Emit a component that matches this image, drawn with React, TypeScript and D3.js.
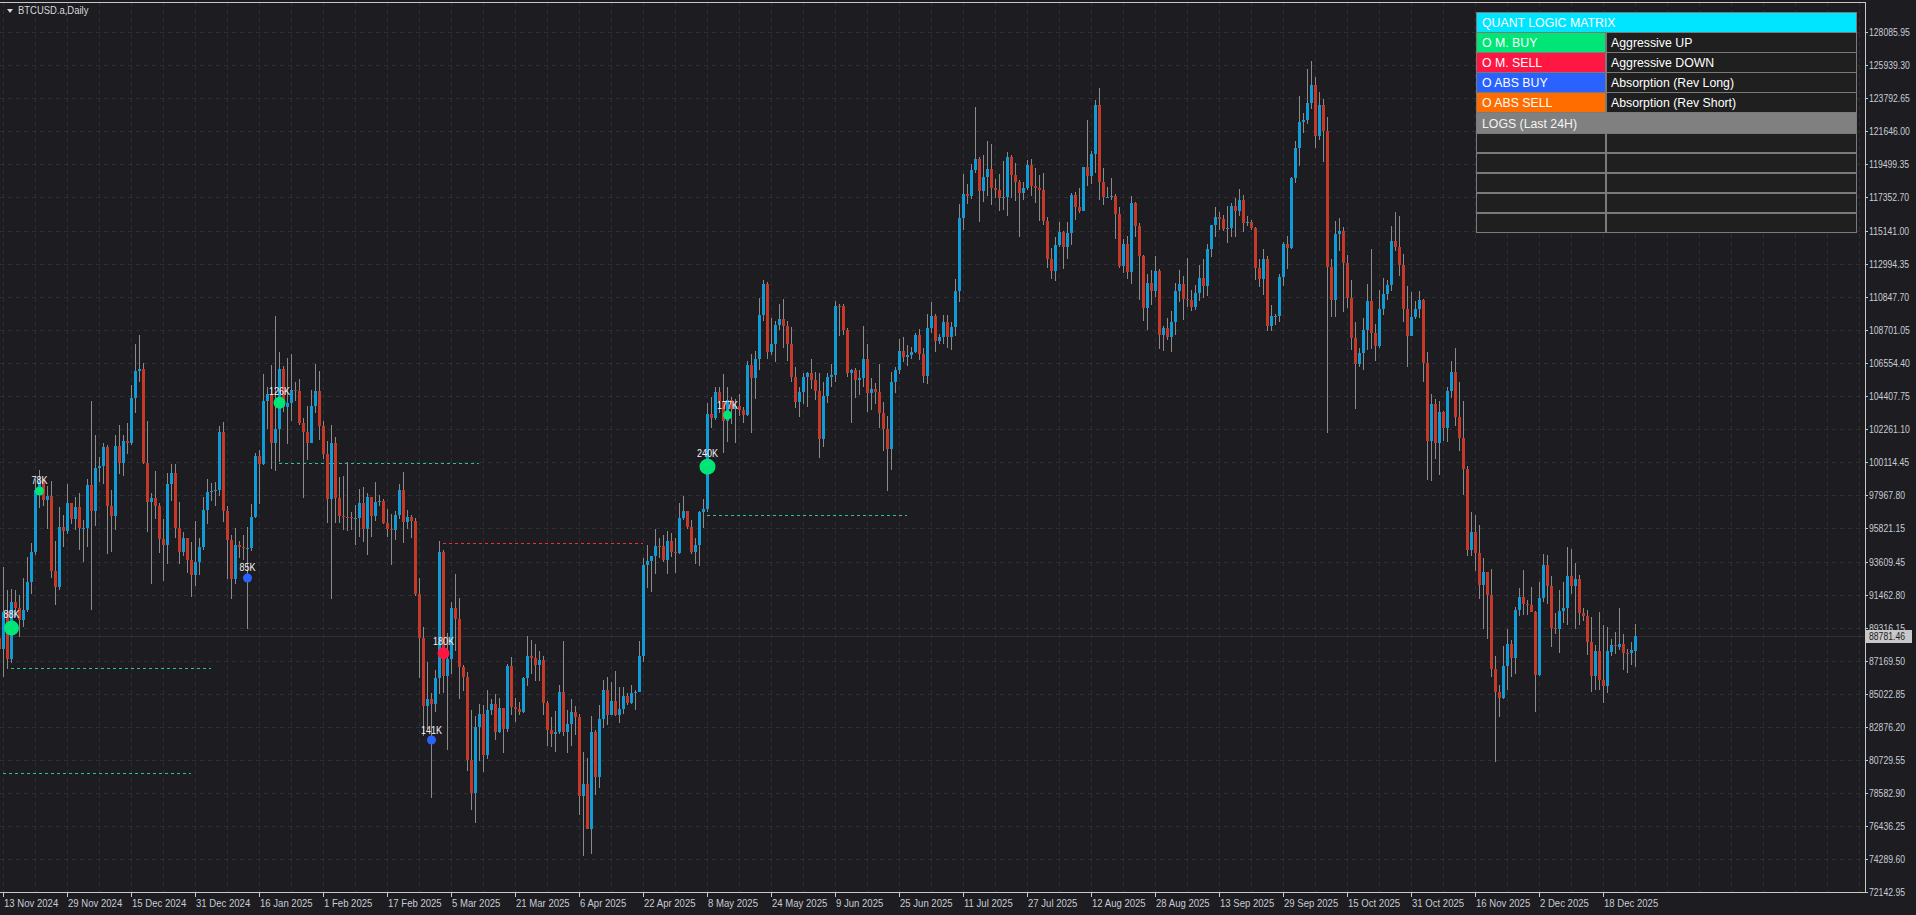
import React from 'react';
import * as d3 from 'd3';

const W = 1916;
const H = 915;

// ---- OHLC data (thousand USD), one row per daily bar: [open, high, low, close]
const FIRST_BAR = '2024-11-12';
const nov2024 = [
  [88.65, 89.94, 85.07, 87.95], [87.95, 93.27, 86.13, 90.38], [90.38, 91.79, 86.67, 87.33], [87.33, 91.85, 87.07, 91.03],
  [91.03, 91.78, 90.06, 90.59], [90.59, 91.45, 88.72, 89.86], [89.86, 92.59, 89.38, 90.47], [90.47, 93.91, 90.36, 92.31],
  [92.31, 94.83, 91.5, 94.29], [94.29, 98.99, 94.04, 98.32], [98.32, 99.59, 97.12, 98.89], [98.89, 99.0, 97.23, 97.67],
  [97.67, 98.56, 95.73, 97.9], [97.9, 98.87, 92.6, 93.01], [93.01, 94.97, 90.79, 91.97], [91.97, 97.21, 91.79, 95.86],
  [95.86, 96.65, 94.61, 95.64], [95.64, 98.69, 95.41, 97.46], [97.46, 97.46, 96.09, 96.41],
];
const dec2024 = [
  [96.41, 97.84, 95.69, 97.19], [97.19, 98.13, 94.4, 95.84], [95.84, 96.31, 93.58, 95.85], [95.85, 99.0, 94.59, 98.59],
  [98.59, 104.09, 90.5, 96.95], [96.95, 101.9, 95.98, 99.74], [99.74, 100.44, 98.84, 99.83], [99.83, 101.35, 98.66, 101.11],
  [101.11, 101.22, 94.15, 97.28], [97.28, 98.27, 94.26, 96.59], [96.59, 101.9, 95.7, 101.13], [101.13, 102.54, 99.31, 100.04],
  [100.04, 101.9, 99.21, 101.46], [101.46, 102.65, 100.63, 101.37], [101.37, 105.12, 101.23, 104.3], [104.3, 107.78, 103.32, 106.03],
  [106.03, 108.35, 105.32, 106.14], [106.14, 106.53, 100.0, 100.04], [100.04, 102.8, 95.59, 97.49], [97.49, 98.1, 92.18, 97.76],
  [97.76, 99.54, 96.4, 97.23], [97.23, 97.43, 94.2, 95.1], [95.1, 96.42, 92.4, 94.69], [94.69, 99.4, 93.45, 98.68],
  [98.68, 99.96, 97.6, 99.43], [99.43, 99.96, 95.2, 95.79], [95.79, 97.54, 93.5, 94.28], [94.28, 95.53, 94.02, 95.16],
  [95.16, 95.17, 92.88, 93.74], [93.74, 94.9, 91.32, 92.79], [92.79, 96.25, 92.03, 93.58],
];
const jan2025 = [
  [93.58, 95.15, 92.75, 94.59], [94.59, 97.84, 94.39, 96.99], [96.99, 98.98, 96.1, 98.17], [98.17, 98.73, 97.56, 98.24],
  [98.24, 98.81, 97.25, 98.32], [98.32, 102.48, 97.93, 102.08], [102.08, 102.72, 96.18, 96.92], [96.92, 97.26, 92.5, 95.04],
  [95.04, 95.35, 91.22, 92.48], [92.48, 95.84, 92.21, 94.7], [94.7, 94.98, 93.84, 94.57], [94.57, 95.38, 93.71, 94.49],
  [94.49, 95.9, 89.26, 94.52], [94.52, 97.37, 94.31, 96.53], [96.53, 100.68, 96.5, 100.51], [100.51, 100.87, 97.35, 99.99],
  [99.99, 105.87, 99.95, 104.08], [104.08, 104.99, 102.28, 104.56], [104.56, 106.42, 99.65, 101.33], [101.33, 109.59, 99.55, 102.26],
  [102.26, 107.24, 100.12, 106.14], [106.14, 106.39, 103.34, 103.71], [103.71, 106.85, 101.26, 103.96], [103.96, 107.12, 102.75, 104.82],
  [104.82, 105.29, 104.11, 104.71], [104.71, 105.5, 102.52, 102.68], [102.68, 103.0, 97.78, 102.09], [102.09, 103.78, 100.23, 101.33],
  [101.33, 104.8, 101.33, 103.73], [103.73, 106.46, 103.32, 104.72], [104.72, 106.01, 101.56, 102.43],
];
const feb2025 = [
  [102.43, 102.78, 100.28, 100.64], [100.64, 101.46, 96.15, 97.7], [97.7, 102.5, 91.23, 101.33], [101.33, 101.75, 96.15, 97.76],
  [97.76, 99.15, 96.16, 96.61], [96.61, 99.18, 95.68, 96.55], [96.55, 100.14, 95.62, 96.51], [96.51, 96.88, 95.69, 96.44],
  [96.44, 97.32, 94.71, 96.46], [96.46, 98.35, 95.26, 97.43], [97.43, 98.48, 94.88, 95.78], [95.78, 98.12, 94.09, 97.87],
  [97.87, 97.87, 95.22, 96.61], [96.61, 98.83, 96.25, 97.5], [97.5, 97.97, 97.22, 97.57], [97.57, 97.73, 96.06, 96.12],
  [96.12, 97.05, 95.21, 95.78], [95.78, 96.75, 93.39, 95.67], [95.67, 96.9, 95.03, 96.64], [96.64, 98.71, 96.42, 98.31],
  [98.31, 99.48, 94.87, 96.18], [96.18, 96.98, 95.77, 96.55], [96.55, 96.67, 95.2, 96.26], [96.26, 96.5, 91.37, 91.55],
  [91.55, 92.54, 86.05, 88.68], [88.68, 89.41, 82.26, 84.25], [84.25, 87.08, 82.72, 84.71], [84.71, 85.12, 78.26, 84.35],
];
const mar2025 = [
  [84.35, 86.56, 83.82, 86.06], [86.06, 95.0, 85.05, 94.27], [94.27, 94.42, 85.12, 86.22], [86.22, 88.97, 81.39, 87.28],
  [87.28, 91.0, 86.33, 90.61], [90.61, 92.81, 87.84, 89.93], [89.93, 91.28, 84.67, 86.8], [86.8, 86.88, 85.25, 86.15],
  [86.15, 86.47, 80.0, 80.74], [80.74, 83.96, 77.46, 78.6], [78.6, 83.62, 76.61, 82.86], [82.86, 84.36, 80.67, 83.72],
  [83.72, 84.3, 79.94, 81.07], [81.07, 85.31, 80.8, 83.97], [83.97, 84.67, 83.64, 84.34], [84.34, 85.05, 82.02, 82.58],
  [82.58, 84.76, 82.46, 84.08], [84.08, 84.08, 81.18, 82.72], [82.72, 87.0, 82.55, 86.85], [86.85, 87.45, 83.66, 84.17],
  [84.17, 84.78, 83.18, 84.04], [84.04, 84.51, 83.68, 83.83], [83.83, 86.13, 83.8, 86.05], [86.05, 88.77, 85.54, 87.5],
  [87.5, 88.54, 86.3, 87.39], [87.39, 88.29, 85.86, 86.91], [86.91, 87.79, 85.84, 87.23], [87.23, 87.52, 83.65, 84.42],
  [84.42, 84.57, 81.64, 82.65], [82.65, 83.53, 81.57, 82.39], [82.39, 83.94, 81.28, 82.55],
];
const apr2025 = [
  [82.55, 85.58, 82.43, 85.16], [85.16, 88.5, 82.32, 82.52], [82.52, 84.0, 81.21, 83.1], [83.1, 84.72, 81.66, 83.84],
  [83.84, 84.27, 82.38, 83.5], [83.5, 83.71, 77.15, 78.37], [78.37, 81.24, 74.51, 79.14], [79.14, 80.87, 76.24, 76.27],
  [76.27, 83.59, 74.62, 82.57], [82.57, 82.7, 78.46, 79.63], [79.63, 84.3, 78.94, 83.4], [83.4, 85.91, 82.79, 85.29],
  [85.29, 86.1, 83.03, 83.68], [83.68, 85.8, 83.68, 84.54], [84.54, 86.5, 83.6, 83.67], [83.67, 85.5, 83.11, 84.03],
  [84.03, 85.47, 83.74, 84.9], [84.9, 85.09, 84.3, 84.45], [84.45, 85.6, 84.35, 85.06], [85.06, 85.31, 83.95, 85.17],
  [85.17, 88.46, 85.14, 87.52], [87.52, 93.89, 87.08, 93.44], [93.44, 94.7, 91.94, 93.69], [93.69, 94.0, 91.66, 93.98],
  [93.98, 95.76, 92.86, 94.64], [94.64, 95.2, 93.87, 94.63], [94.63, 95.37, 93.6, 93.75], [93.75, 95.63, 92.8, 94.98],
  [94.98, 95.47, 93.92, 94.28], [94.28, 95.2, 92.91, 94.17],
];
const may2025 = [
  [94.17, 97.44, 94.11, 96.49], [96.49, 97.9, 96.33, 96.91], [96.91, 96.94, 95.75, 95.86], [95.86, 96.32, 94.14, 94.28],
  [94.28, 95.2, 93.51, 94.73], [94.73, 96.92, 93.38, 96.83], [96.83, 97.73, 95.8, 97.03], [97.03, 103.97, 96.89, 103.24],
  [103.24, 104.36, 102.32, 102.97], [102.97, 104.98, 102.82, 104.7], [104.7, 105.0, 103.32, 104.11], [104.11, 105.82, 100.72, 102.81],
  [102.81, 104.98, 101.43, 104.17], [104.17, 104.34, 102.6, 103.54], [103.54, 104.19, 101.38, 103.74], [103.74, 104.55, 103.1, 103.49],
  [103.49, 103.72, 102.63, 103.19], [103.19, 106.66, 103.11, 106.43], [106.43, 107.11, 102.0, 105.61], [105.61, 107.32, 104.19, 106.79],
  [106.79, 110.8, 106.1, 109.68], [109.68, 111.98, 109.29, 111.67], [111.67, 111.8, 106.8, 107.29], [107.29, 109.5, 107.1, 107.79],
  [107.79, 109.31, 106.6, 109.04], [109.04, 110.42, 108.67, 109.44], [109.44, 110.72, 107.52, 108.99], [108.99, 109.31, 106.68, 107.8],
  [107.8, 108.91, 105.32, 105.64], [105.64, 106.31, 103.62, 104.0], [104.0, 105.0, 103.07, 104.64],
];
const jun2025 = [
  [104.64, 105.92, 103.86, 105.65], [105.65, 105.94, 103.7, 105.88], [105.88, 106.79, 104.88, 105.43], [105.43, 106.0, 104.17, 104.73],
  [104.73, 105.91, 100.37, 101.58], [101.58, 105.33, 101.1, 104.39], [104.39, 105.9, 103.98, 105.62], [105.62, 106.49, 105.0, 105.79],
  [105.79, 110.6, 105.32, 110.29], [110.29, 110.4, 108.33, 110.26], [110.26, 110.39, 108.37, 108.69], [108.69, 108.81, 105.67, 105.93],
  [105.93, 106.18, 102.66, 106.09], [106.09, 106.21, 104.3, 105.47], [105.47, 106.13, 104.49, 105.55], [105.55, 108.95, 104.98, 106.8],
  [106.8, 107.77, 103.37, 104.6], [104.6, 105.56, 103.5, 104.88], [104.88, 105.25, 103.9, 104.64], [104.64, 106.52, 102.35, 103.31],
  [103.31, 104.0, 100.84, 102.26], [102.26, 103.13, 98.2, 100.96], [100.96, 106.0, 99.61, 105.33], [105.33, 106.29, 104.62, 106.08],
  [106.08, 108.14, 105.81, 107.34], [107.34, 108.27, 106.6, 106.95], [106.95, 107.74, 106.36, 107.05], [107.05, 107.59, 106.81, 107.3],
  [107.3, 108.53, 107.2, 108.36], [108.36, 108.79, 106.73, 107.14],
];
const jul2025 = [
  [107.14, 107.54, 105.25, 105.7], [105.7, 109.76, 105.16, 108.85], [108.85, 110.53, 108.53, 109.58], [109.58, 109.77, 107.25, 107.99],
  [107.99, 108.42, 107.8, 108.22], [108.22, 109.7, 107.8, 109.2], [109.2, 109.7, 107.51, 108.26], [108.26, 109.22, 107.43, 108.92],
  [108.92, 112.0, 108.32, 111.23], [111.23, 116.87, 110.5, 115.99], [115.99, 118.87, 115.22, 117.52], [117.52, 118.2, 116.9, 117.44],
  [117.44, 119.49, 117.23, 119.09], [119.09, 123.22, 118.91, 119.84], [119.84, 119.94, 115.74, 117.76], [117.76, 120.06, 117.02, 118.63],
  [118.63, 121.0, 117.45, 119.18], [119.18, 120.82, 116.81, 117.92], [117.92, 118.5, 117.28, 117.84], [117.84, 118.86, 116.47, 117.27],
  [117.27, 119.68, 116.52, 117.38], [117.38, 120.25, 116.13, 119.95], [119.95, 120.09, 117.3, 118.76], [118.76, 119.54, 117.1, 118.34],
  [118.34, 118.45, 114.72, 117.61], [117.61, 118.3, 117.17, 117.92], [117.92, 119.77, 117.84, 119.42], [119.42, 119.8, 117.43, 118.06],
  [118.06, 119.27, 116.95, 117.94], [117.94, 118.79, 115.8, 117.8], [117.8, 118.92, 115.5, 115.76],
];
const aug2025 = [
  [115.76, 116.05, 112.72, 113.3], [113.3, 114.04, 112.0, 112.55], [112.55, 114.77, 111.92, 114.21], [114.21, 115.72, 114.11, 115.06],
  [115.06, 115.13, 112.65, 114.13], [114.13, 115.72, 113.35, 114.99], [114.99, 117.63, 114.26, 117.47], [117.47, 117.7, 115.88, 116.67],
  [116.67, 117.94, 116.3, 116.46], [116.46, 119.31, 116.46, 119.29], [119.29, 122.34, 118.05, 118.69], [118.69, 120.32, 118.21, 120.13],
  [120.13, 123.67, 118.92, 123.31], [123.31, 124.47, 117.18, 118.3], [118.3, 119.22, 116.8, 117.34], [117.34, 118.0, 117.26, 117.38],
  [117.38, 118.58, 117.17, 117.41], [117.41, 117.54, 114.64, 116.23], [116.23, 116.73, 112.73, 112.87], [112.87, 114.62, 112.38, 114.27],
  [114.27, 114.82, 112.02, 112.5], [112.5, 117.43, 111.68, 116.94], [116.94, 117.0, 114.72, 115.44], [115.44, 115.67, 110.68, 113.49],
  [113.49, 113.6, 109.27, 110.11], [110.11, 112.37, 108.67, 111.76], [111.76, 112.63, 110.35, 111.26], [111.26, 113.49, 110.86, 112.57],
  [112.57, 112.64, 107.46, 108.38], [108.38, 108.95, 107.35, 108.82], [108.82, 109.48, 108.08, 108.25],
];
const sep2025 = [
  [108.25, 109.91, 107.26, 109.24], [109.24, 111.77, 108.39, 111.24], [111.24, 112.6, 110.53, 111.71], [111.71, 112.21, 109.33, 110.73],
  [110.73, 113.38, 110.21, 110.66], [110.66, 111.3, 109.93, 110.19], [110.19, 111.6, 110.0, 111.14], [111.14, 112.93, 110.62, 112.07],
  [112.07, 113.29, 110.77, 111.55], [111.55, 114.31, 110.92, 113.96], [113.96, 115.49, 113.43, 115.5], [115.5, 116.67, 114.74, 116.03],
  [116.03, 116.4, 115.22, 115.92], [115.92, 116.15, 115.14, 115.27], [115.27, 116.78, 114.38, 115.35], [115.35, 116.96, 114.74, 116.79],
  [116.79, 117.29, 114.72, 116.47], [116.47, 117.9, 116.09, 117.14], [117.14, 117.46, 115.1, 115.63], [115.63, 116.1, 115.45, 115.72],
  [115.72, 115.86, 115.2, 115.31], [115.31, 115.38, 111.94, 112.75], [112.75, 113.29, 111.5, 112.01], [112.01, 114.0, 111.0, 113.33],
  [113.33, 113.51, 108.63, 108.99], [108.99, 110.3, 108.62, 109.64], [109.64, 109.77, 109.04, 109.64], [109.64, 112.35, 109.2, 112.16],
  [112.16, 114.4, 111.56, 114.31], [114.31, 114.79, 112.66, 114.05],
];
const oct2025 = [
  [114.05, 118.65, 113.98, 118.59], [118.59, 121.02, 118.28, 120.53], [120.53, 123.94, 119.34, 122.23], [122.23, 122.8, 121.5, 122.39],
  [122.39, 125.71, 122.1, 123.48], [123.48, 126.2, 123.08, 124.66], [124.66, 125.13, 120.57, 121.33], [121.33, 124.2, 121.07, 123.31],
  [123.31, 123.76, 119.65, 121.66], [121.66, 122.55, 102.0, 112.77], [112.77, 113.32, 109.56, 110.64], [110.64, 115.77, 109.57, 114.96],
  [114.96, 116.0, 113.82, 115.17], [115.17, 115.4, 109.87, 113.03], [113.03, 113.61, 110.16, 110.76], [110.76, 111.98, 107.43, 108.19],
  [108.19, 109.24, 103.53, 106.47], [106.47, 107.5, 106.32, 107.2], [107.2, 109.45, 106.1, 108.67], [108.67, 111.71, 107.4, 110.59],
  [110.59, 114.0, 107.47, 108.48], [108.48, 109.07, 106.67, 107.69], [107.69, 111.29, 107.5, 110.07], [110.07, 112.1, 109.7, 111.03],
  [111.03, 111.94, 110.67, 111.64], [111.64, 115.47, 111.26, 114.47], [114.47, 116.4, 113.83, 114.12], [114.12, 116.09, 112.21, 112.96],
  [112.96, 113.64, 109.2, 110.06], [110.06, 111.59, 106.3, 108.31], [108.31, 111.19, 108.28, 109.56],
];
const nov2025 = [
  [109.56, 110.56, 109.39, 110.06], [110.06, 111.25, 109.47, 110.64], [110.64, 110.75, 105.31, 106.55], [106.55, 107.3, 98.94, 101.5],
  [101.5, 104.53, 98.89, 103.89], [103.89, 104.2, 100.3, 101.35], [101.35, 104.1, 99.26, 103.34], [103.34, 103.41, 101.45, 102.31],
  [102.31, 105.0, 101.4, 104.72], [104.72, 106.67, 104.27, 106.0], [106.0, 107.5, 102.48, 103.02], [103.02, 105.33, 100.81, 101.65],
  [101.65, 104.09, 98.0, 99.69], [99.69, 99.87, 94.01, 94.4], [94.4, 96.85, 94.0, 95.55], [95.55, 96.64, 93.0, 94.18],
  [94.18, 96.04, 91.22, 92.09], [92.09, 93.84, 89.25, 92.95], [92.95, 92.98, 88.61, 91.47], [91.47, 93.16, 86.1, 86.63],
  [86.63, 87.5, 80.6, 85.13], [85.13, 85.62, 83.5, 84.74], [84.74, 88.13, 84.67, 86.83], [86.83, 89.23, 85.27, 88.3],
  [88.3, 88.52, 86.12, 87.37], [87.37, 90.66, 86.31, 90.48], [90.48, 91.95, 90.09, 91.33], [91.33, 93.09, 90.18, 90.89],
  [90.89, 91.17, 90.16, 90.8], [90.8, 92.0, 90.34, 90.36],
];
const dec2025 = [
  [90.36, 90.42, 83.82, 86.29], [86.29, 92.31, 86.19, 91.28], [91.28, 94.15, 90.99, 93.43], [93.43, 94.08, 90.89, 92.08],
  [92.08, 92.69, 88.06, 89.33], [89.33, 90.29, 88.91, 89.24], [89.24, 91.76, 87.72, 90.4], [90.4, 92.29, 89.61, 90.63],
  [90.63, 94.59, 89.5, 92.68], [92.68, 94.48, 91.56, 92.02], [92.02, 93.56, 89.26, 92.51], [92.51, 92.75, 89.48, 90.27],
  [90.27, 90.63, 89.77, 90.1], [90.1, 90.47, 87.58, 88.4], [88.4, 90.05, 85.15, 86.19], [86.19, 88.18, 85.27, 87.82],
  [87.82, 90.37, 85.31, 85.93], [85.93, 89.48, 84.45, 85.54], [85.54, 89.4, 85.11, 87.82], [87.76, 88.57, 87.5, 88.21],
  [88.21, 89.08, 87.6, 88.2], [88.08, 90.59, 87.9, 88.28], [88.28, 88.94, 86.6, 87.69], [87.72, 87.96, 86.4, 87.69],
  [87.69, 88.4, 86.9, 87.89], [87.8, 89.6, 86.8, 88.78146],
];
const MONTHS = [nov2024, dec2024, jan2025, feb2025, mar2025, apr2025, may2025, jun2025, jul2025, aug2025, sep2025, oct2025, nov2025, dec2025];

const LAST_PRICE = 88781.46;

// Axis labels
const PRICE_TICKS = [
  '128085.95', '125939.30', '123792.65', '121646.00', '119499.35', '117352.70', '115141.00', '112994.35', '110847.70',
  '108701.05', '106554.40', '104407.75', '102261.10', '100114.45', '97967.80', '95821.15', '93609.45', '91462.80',
  '89316.15', '87169.50', '85022.85', '82876.20', '80729.55', '78582.90', '76436.25', '74289.60', '72142.95',
];
const DATE_TICKS = [
  '13 Nov 2024', '29 Nov 2024', '15 Dec 2024', '31 Dec 2024', '16 Jan 2025', '1 Feb 2025', '17 Feb 2025', '5 Mar 2025',
  '21 Mar 2025', '6 Apr 2025', '22 Apr 2025', '8 May 2025', '24 May 2025', '9 Jun 2025', '25 Jun 2025', '11 Jul 2025',
  '27 Jul 2025', '12 Aug 2025', '28 Aug 2025', '13 Sep 2025', '29 Sep 2025', '15 Oct 2025', '31 Oct 2025', '16 Nov 2025',
  '2 Dec 2025', '18 Dec 2025',
];

// Signals: date, price (thousand USD), kind, label, size
const SIGNAL_DATES = ['2024-11-15', '2024-11-22', '2025-01-13', '2025-01-21', '2025-03-03', '2025-02-28', '2025-05-08', '2025-05-13'];
const SIGNAL_PRICES = [89.32, 98.23, 92.57, 103.97, 87.67, 82.03, 99.81, 103.17];
const SIGNAL_KINDS = ['buy', 'buy', 'absBuy', 'buy', 'sell', 'absBuy', 'buy', 'buy'];
const SIGNAL_LABELS = ['88K', '78K', '85K', '126K', '180K', '141K', '240K', '177K'];
const SIGNAL_SIZES = [7.5, 4.5, 4.5, 6, 6, 4.5, 8, 4.5];

// Dashed levels: start date, end date, price, kind
const LEVEL_STARTS = ['2024-11-15', '2024-11-10', '2025-01-21', '2025-03-03', '2025-05-08'];
const LEVEL_ENDS = ['2025-01-04', '2024-12-30', '2025-03-12', '2025-04-22', '2025-06-27'];
const LEVEL_PRICES = [86.72, 79.88, 100.05, 94.84, 96.65];
const LEVEL_KINDS = ['buy', 'buy', 'buy', 'sell', 'buy'];

// Legend table
const LEGEND_LEFT = ['O M. BUY', 'O M. SELL', 'O ABS BUY', 'O ABS SELL'];
const LEGEND_RIGHT = ['Aggressive UP', 'Aggressive DOWN', 'Absorption (Rev Long)', 'Absorption (Rev Short)'];
const LEGEND_KINDS = ['buy', 'sell', 'absBuy', 'absSell'];

const KIND_COLOR: Record<string, string> = {
  buy: '#00e676',
  sell: '#ff1744',
  absBuy: '#2962ff',
  absSell: '#ff6d00',
};
const LEVEL_COLOR: Record<string, string> = { buy: '#2bc684', sell: '#e8323f' };

const BG = '#1c1c21';
const GRID = '#2e2e35';
const UP = '#119ad6';
const DOWN = '#c4392a';
const WICK = '#8a8a8a';
const AXIS_TXT = '#c9ccd4';
const FONT = "'Liberation Sans', Arial, sans-serif";

const PLOT_RIGHT = 1865;
const PLOT_BOTTOM = 892;
const PLOT_TOP = 2;

const parseIso = d3.utcParse('%Y-%m-%d');
const parseTick = d3.utcParse('%d %b %Y');

// Narrow terminal-style text: Liberation Sans squeezed horizontally
function NarrowText(props: {
  x: number;
  y: number;
  sx: number;
  size: number;
  fill: string;
  anchor?: 'start' | 'middle' | 'end';
  children: string;
}) {
  const { x, y, sx, size, fill, anchor = 'start', children } = props;
  return (
    <text transform={`translate(${x},${y}) scale(${sx},1)`} fontSize={size} fill={fill} textAnchor={anchor}>
      {children}
    </text>
  );
}

export default function App() {
  const first = parseIso(FIRST_BAR) as Date;
  const bars: { date: Date; o: number; h: number; l: number; c: number }[] = [];
  MONTHS.forEach((m) =>
    m.forEach((r) => {
      bars.push({ date: d3.utcDay.offset(first, bars.length), o: r[0], h: r[1], l: r[2], c: r[3] });
    })
  );

  const x = d3
    .scaleUtc()
    .domain([parseIso('2024-11-13') as Date, parseIso('2025-12-26') as Date])
    .range([3, 1635]);
  const y = d3.scaleLinear().domain([72.14295, 128.08595]).range([892, 32]);

  const priceTicks = PRICE_TICKS.map((s) => ({ s, v: +s / 1000 }));
  const dateTicks = DATE_TICKS.map((s) => ({ s, d: parseTick(s) as Date }));

  const gridXs: number[] = [];
  const x0 = x(parseIso('2024-11-13') as Date);
  for (let gx = x0; gx < PLOT_RIGHT; gx += 32) gridXs.push(gx);

  const px = (d: Date) => Math.round(x(d));
  const py = (v: number) => Math.round(y(v));
  const lastY = py(LAST_PRICE / 1000);
  const LABEL_X = PLOT_RIGHT + 4;

  return (
    <svg
      width={W}
      height={H}
      style={{ position: 'absolute', left: 0, top: 0, display: 'block' }}
      fontFamily={FONT}
    >
      <rect x={0} y={0} width={W} height={H} fill={BG} />

      {/* grid */}
      <g shapeRendering="crispEdges">
        {priceTicks.map((t) => (
          <line key={t.s} x1={0} x2={PLOT_RIGHT} y1={py(t.v) + 0.5} y2={py(t.v) + 0.5} stroke={GRID} strokeDasharray="4,4" />
        ))}
        {gridXs.map((gx) => (
          <line key={gx} x1={gx + 0.5} x2={gx + 0.5} y1={PLOT_TOP} y2={PLOT_BOTTOM} stroke={GRID} strokeDasharray="4,4" />
        ))}
      </g>

      {/* bid line */}
      <line x1={0} x2={PLOT_RIGHT} y1={lastY + 0.5} y2={lastY + 0.5} stroke="#2f2f36" shapeRendering="crispEdges" />

      {/* dashed levels */}
      <g shapeRendering="crispEdges">
        {LEVEL_PRICES.map((p, i) => (
          <line
            key={i}
            x1={px(parseIso(LEVEL_STARTS[i]) as Date)}
            x2={px(parseIso(LEVEL_ENDS[i]) as Date)}
            y1={py(p) + 0.5}
            y2={py(p) + 0.5}
            stroke={LEVEL_COLOR[LEVEL_KINDS[i]]}
            strokeDasharray="3,3"
          />
        ))}
      </g>

      {/* candles */}
      <g shapeRendering="crispEdges">
        {bars.map((b, i) => {
          const cx = px(b.date);
          if (cx < -3 || cx > PLOT_RIGHT) return null;
          const top = py(Math.max(b.o, b.c));
          const bot = py(Math.min(b.o, b.c));
          return (
            <g key={i}>
              <rect x={cx} y={py(b.h)} width={1} height={Math.max(1, py(b.l) - py(b.h))} fill={WICK} />
              <rect x={cx - 1} y={top} width={3} height={Math.max(1, bot - top)} fill={b.c >= b.o ? UP : DOWN} />
            </g>
          );
        })}
      </g>

      {/* signals */}
      <g>
        {SIGNAL_DATES.map((d, i) => {
          const cx = x(parseIso(d) as Date) + 0.5;
          const cy = y(SIGNAL_PRICES[i]);
          const r = SIGNAL_SIZES[i];
          return (
            <g key={i}>
              <circle cx={cx} cy={cy} r={r} fill={KIND_COLOR[SIGNAL_KINDS[i]]} />
              <NarrowText x={cx} y={cy - r - 2} sx={0.86} size={10.5} fill="#f2f2f2" anchor="middle">
                {SIGNAL_LABELS[i]}
              </NarrowText>
            </g>
          );
        })}
      </g>

      {/* frame */}
      <g shapeRendering="crispEdges" stroke="#c8c8c8">
        <line x1={PLOT_RIGHT + 0.5} x2={PLOT_RIGHT + 0.5} y1={PLOT_TOP} y2={PLOT_BOTTOM + 1} />
        <line x1={0} x2={PLOT_RIGHT + 1} y1={PLOT_BOTTOM + 0.5} y2={PLOT_BOTTOM + 0.5} />
        <line x1={0} x2={PLOT_RIGHT + 1} y1={PLOT_TOP + 0.5} y2={PLOT_TOP + 0.5} />
      </g>

      {/* price axis */}
      <g>
        {priceTicks.map((t) => (
          <g key={t.s}>
            <line x1={PLOT_RIGHT} x2={PLOT_RIGHT + 3} y1={py(t.v) + 0.5} y2={py(t.v) + 0.5} stroke="#c8c8c8" shapeRendering="crispEdges" />
            <NarrowText x={LABEL_X} y={py(t.v) + 4} sx={0.8} size={10.8} fill={AXIS_TXT}>
              {t.s}
            </NarrowText>
          </g>
        ))}
        <rect x={PLOT_RIGHT + 1} y={lastY - 6} width={46} height={13} fill="#c8c8c8" />
        <NarrowText x={LABEL_X} y={lastY + 4} sx={0.8} size={10.8} fill="#1c1c21">
          {LAST_PRICE.toFixed(2)}
        </NarrowText>
      </g>

      {/* time axis */}
      <g>
        {dateTicks.map((t) => {
          const tx = px(t.d);
          return (
            <g key={t.s}>
              <line x1={tx + 0.5} x2={tx + 0.5} y1={PLOT_BOTTOM} y2={PLOT_BOTTOM + 5} stroke="#c8c8c8" shapeRendering="crispEdges" />
              <NarrowText x={tx + 1} y={907} sx={0.87} size={11} fill={AXIS_TXT}>
                {t.s}
              </NarrowText>
            </g>
          );
        })}
      </g>

      {/* title */}
      <path d="M7,9 L13,9 L10,13 Z" fill="#d8d8d8" />
      <NarrowText x={18} y={14} sx={0.86} size={11} fill="#d8d8d8">
        BTCUSD.a,Daily
      </NarrowText>

      {/* legend table */}
      <g fontSize={12.3}>
        <rect x={1476} y={12} width={381} height={221} fill="#7a7a7a" />
        <rect x={1477} y={13} width={379} height={19} fill="#00e5ff" />
        <text x={1482} y={27} fill="#ffffff">QUANT LOGIC MATRIX</text>
        {LEGEND_LEFT.map((s, i) => {
          const ty = 33 + i * 20;
          return (
            <g key={s}>
              <rect x={1477} y={ty} width={128} height={19} fill={KIND_COLOR[LEGEND_KINDS[i]]} />
              <rect x={1607} y={ty} width={249} height={19} fill="#1f1f1f" />
              <text x={1482} y={ty + 14} fill="#ffffff">{s}</text>
              <text x={1611} y={ty + 14} fill="#ffffff">{LEGEND_RIGHT[i]}</text>
            </g>
          );
        })}
        <rect x={1477} y={113} width={379} height={20} fill="#808080" />
        <text x={1482} y={128} fill="#f4f4f4">LOGS (Last 24H)</text>
        {[0, 1, 2, 3, 4].map((k) => {
          const ty = 134 + k * 20;
          return (
            <g key={k}>
              <rect x={1477} y={ty} width={128} height={18} fill="#1f1f1f" />
              <rect x={1607} y={ty} width={249} height={18} fill="#1f1f1f" />
            </g>
          );
        })}
      </g>
    </svg>
  );
}
